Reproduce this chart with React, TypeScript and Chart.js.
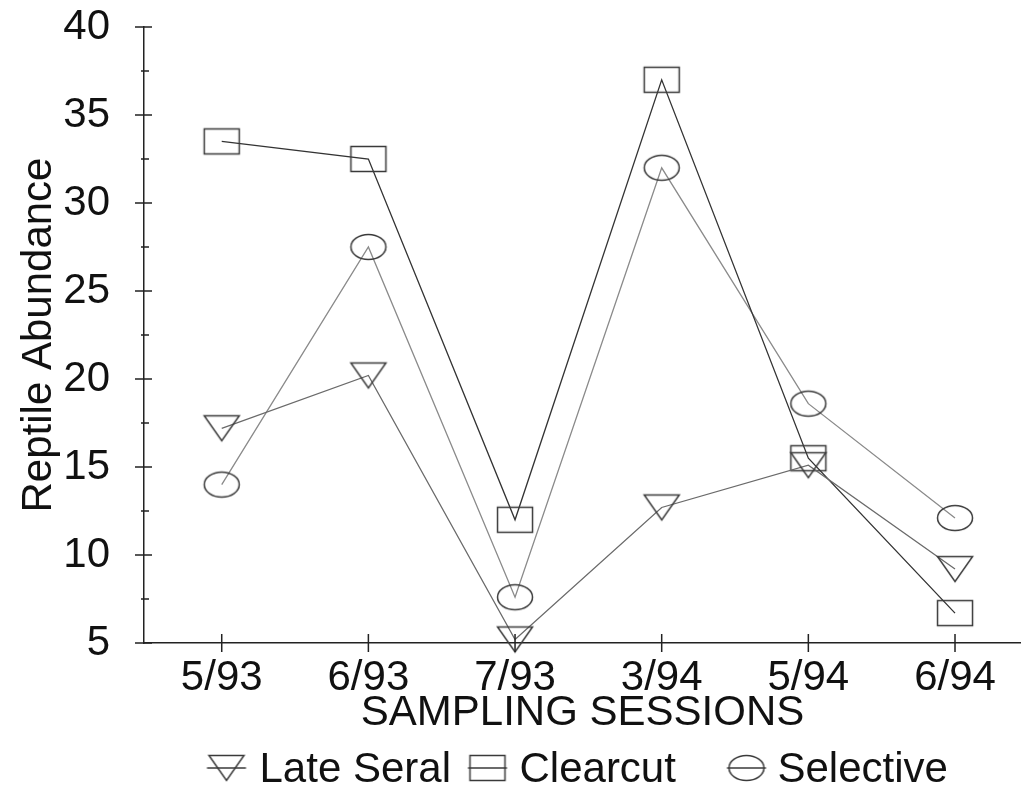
import React, { useEffect, useRef } from "react";
import { Chart, registerables } from "chart.js";

Chart.register(...registerables);

const sessions = ["5/93", "6/93", "7/93", "3/94", "5/94", "6/94"];
const lateSeral = [17.2, 20.2, 5.2, 12.7, 15.1, 9.2];
const clearcut = [33.5, 32.5, 12.0, 37.0, 15.5, 6.7];
const selective = [14.0, 27.5, 7.6, 32.0, 18.6, 12.1];
const yTicks = [5, 10, 15, 20, 25, 30, 35, 40];
const seriesNames = ["Late Seral", "Clearcut", "Selective"];
const markerKinds = ["tri", "rect", "circle"];
const lineColors = ["#6a6a6a", "#333333", "#8a8a8a"];

const FAMILY = "'Liberation Sans', Arial, Helvetica, sans-serif";
const TEXT_COLOR = "#111111";
const AXIS_COLOR = "#222222";

function makeMarker(kind: string, withLine: boolean): HTMLCanvasElement {
  const w = 42;
  const h = 32;
  const c = document.createElement("canvas");
  c.width = w;
  c.height = h;
  const ctx = c.getContext("2d")!;
  ctx.strokeStyle = "#3a3a3a";
  ctx.lineWidth = 1.5;
  const mw = 35;
  const mh = 25;
  const cx = w / 2;
  const cy = h / 2;
  ctx.beginPath();
  if (kind === "tri") {
    ctx.moveTo(cx - mw / 2, cy - mh / 2);
    ctx.lineTo(cx + mw / 2, cy - mh / 2);
    ctx.lineTo(cx, cy + mh / 2);
    ctx.closePath();
  } else if (kind === "rect") {
    ctx.rect(cx - mw / 2, cy - mh / 2, mw, mh);
  } else {
    ctx.ellipse(cx, cy, mw / 2, mh / 2, 0, 0, Math.PI * 2);
  }
  ctx.stroke();
  if (withLine) {
    ctx.beginPath();
    ctx.moveTo(cx - mw / 2 - 2, cy);
    ctx.lineTo(cx + mw / 2 + 2, cy);
    ctx.stroke();
  }
  return c;
}

export default function App() {
  const ref = useRef<HTMLCanvasElement | null>(null);

  useEffect(() => {
    if (!ref.current) return;
    const markers = markerKinds.map((k) => makeMarker(k, false));
    const legendMarkers = markerKinds.map((k) => makeMarker(k, true));
    const values = [lateSeral, clearcut, selective];

    const axisTicks = {
      id: "axisTicks",
      afterDraw(chart: any) {
        const { ctx, chartArea, scales } = chart;
        const x = scales.x;
        const y = scales.y;
        ctx.save();
        ctx.strokeStyle = AXIS_COLOR;
        ctx.lineWidth = 1.5;
        ctx.beginPath();
        yTicks.forEach((v, i) => {
          const py = y.getPixelForValue(v);
          ctx.moveTo(chartArea.left - 9, py);
          ctx.lineTo(chartArea.left + 8, py);
          if (i < yTicks.length - 1) {
            const pm = y.getPixelForValue((v + yTicks[i + 1]) / 2);
            ctx.moveTo(chartArea.left - 3, pm);
            ctx.lineTo(chartArea.left + 5, pm);
          }
        });
        sessions.forEach((_, i) => {
          const px = x.getPixelForValue(i);
          ctx.moveTo(px, chartArea.bottom - 9);
          ctx.lineTo(px, chartArea.bottom + 9);
        });
        ctx.stroke();

        // legend
        const cxm = (chartArea.left + chartArea.right) / 2;
        const symOffsets = [-356, -95, 164];
        const textOffsets = [-323, -63, 195];
        const ly = 768;
        ctx.font = `42px ${FAMILY}`;
        ctx.fillStyle = TEXT_COLOR;
        ctx.textBaseline = "middle";
        ctx.textAlign = "left";
        seriesNames.forEach((name, i) => {
          const m = legendMarkers[i];
          ctx.drawImage(m, cxm + symOffsets[i] - m.width / 2, ly - m.height / 2);
          ctx.fillText(name, cxm + textOffsets[i], ly + 2);
        });
        ctx.restore();
      },
    };

    const font = { family: FAMILY, size: 42 };

    const chart = new Chart(ref.current, {
      type: "line",
      data: {
        datasets: seriesNames.map((name, i) => ({
          label: name,
          data: values[i].map((v, j) => ({ x: j, y: v })),
          borderColor: lineColors[i],
          borderWidth: 1.3,
          pointStyle: markers[i] as any,
          pointRadius: 18,
          pointHoverRadius: 18,
          fill: false,
          tension: 0,
          clip: false as any,
        })),
      },
      options: {
        animation: false,
        responsive: false,
        devicePixelRatio: 1,
        layout: { autoPadding: false, padding: { top: 27, left: 0, right: 0, bottom: 0 } },
        plugins: {
          legend: { display: false },
          tooltip: { enabled: false },
        },
        scales: {
          x: {
            type: "linear",
            min: -0.53,
            max: 5.45,
            afterBuildTicks: (s: any) => {
              s.ticks = sessions.map((_, i) => ({ value: i }));
            },
            afterFit: (s: any) => {
              s.height = 162;
              s.paddingLeft = 0;
              s.paddingRight = 0;
            },
            ticks: {
              callback: (v: any) => sessions[v] ?? "",
              font,
              color: TEXT_COLOR,
              padding: 10,
              maxRotation: 0,
              autoSkip: false,
            },
            grid: { display: true, drawOnChartArea: false, drawTicks: false },
            border: { display: true, color: AXIS_COLOR, width: 1.5 },
            title: {
              display: true,
              text: "SAMPLING SESSIONS",
              font,
              color: TEXT_COLOR,
              padding: { top: 0, bottom: 66 },
            },
          },
          y: {
            type: "linear",
            min: 5,
            max: 40,
            afterBuildTicks: (s: any) => {
              s.ticks = yTicks.map((v) => ({ value: v }));
            },
            afterFit: (s: any) => {
              s.width = 144;
              s.paddingTop = 0;
              s.paddingBottom = 0;
            },
            ticks: { font, color: TEXT_COLOR, padding: 34 },
            grid: { display: true, drawOnChartArea: false, drawTicks: false },
            border: { display: true, color: AXIS_COLOR, width: 1.5 },
            title: {
              display: true,
              text: "Reptile Abundance",
              font,
              color: TEXT_COLOR,
              padding: { top: 14, bottom: 0 },
            },
          },
        },
      },
      plugins: [axisTicks],
    });
    return () => chart.destroy();
  }, []);

  return (
    <div style={{ position: "absolute", left: 0, top: 0, width: 1021, height: 805, overflow: "hidden", background: "#fff" }}>
      <canvas ref={ref} width={1021} height={805} style={{ display: "block" }} />
    </div>
  );
}
